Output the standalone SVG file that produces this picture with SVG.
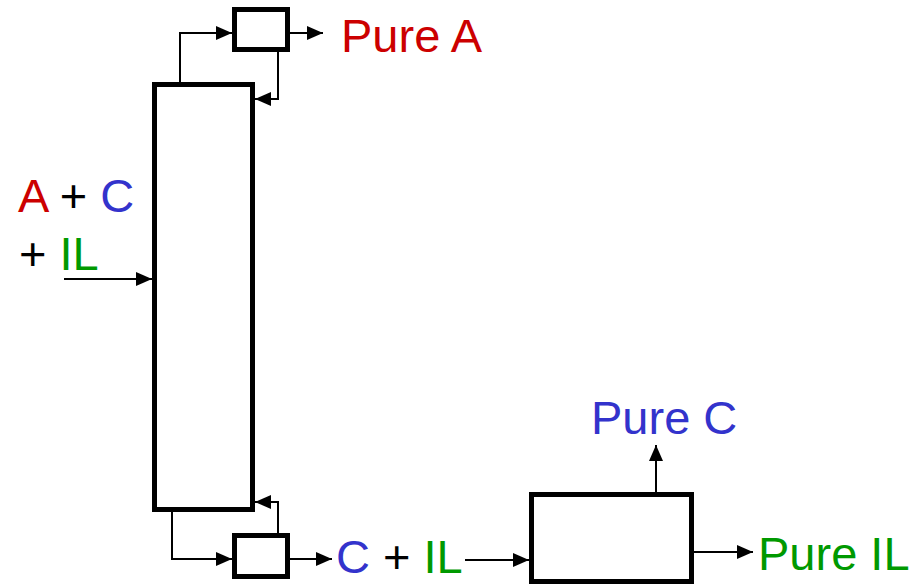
<svg xmlns="http://www.w3.org/2000/svg" width="913" height="586" viewBox="0 0 913 586">
<style>
.unit{fill:#fff;stroke:#000;stroke-width:5}
.line{fill:none;stroke:#000;stroke-width:2;marker-end:url(#ah)}
text{font-family:"Liberation Sans",Arial,sans-serif;font-size:47px}
.r{fill:#CC0000}.b{fill:#3333CC}.g{fill:#009900}.k{fill:#000}
</style>
<defs>
<marker id="ah" markerUnits="userSpaceOnUse" markerWidth="16" markerHeight="14" refX="16" refY="7" orient="auto">
<path d="M0,0 L16,7 L0,14 z" fill="#000"/>
</marker>
</defs>
<g id="connectors">
<path class="line" d="M180,82 V33 H232"/>
<path class="line" d="M290,33 H323"/>
<path class="line" d="M278,52 V99 H255"/>
<path class="line" d="M172,512 V559 H232"/>
<path class="line" d="M278,533 V502 H255"/>
<path class="line" d="M290,559 H332"/>
<path class="line" d="M64,279 H152"/>
<path class="line" d="M465,560 H529"/>
<path class="line" d="M656,492 V445"/>
<path class="line" d="M694,552 H753"/>
</g>
<g id="column"><rect class="unit" x="154.5" y="84.5" width="98" height="425"/></g>
<g id="condenser"><rect class="unit" x="234.5" y="9.5" width="53" height="40"/></g>
<g id="reboiler"><rect class="unit" x="234.5" y="535.5" width="53" height="41"/></g>
<g id="separator"><rect class="unit" x="531.5" y="494.5" width="160" height="87"/></g>
<g id="labels">
<text x="18" y="212"><tspan class="r">A</tspan><tspan class="k"> + </tspan><tspan class="b">C</tspan></text>
<text x="19" y="270"><tspan class="k">+ </tspan><tspan class="g">IL</tspan></text>
<text x="341" y="52" class="r">Pure A</text>
<text x="336" y="573"><tspan class="b">C</tspan><tspan class="k"> + </tspan><tspan class="g">IL</tspan></text>
<text x="591" y="434" class="b">Pure C</text>
<text x="758" y="570" class="g">Pure IL</text>
</g>
</svg>
